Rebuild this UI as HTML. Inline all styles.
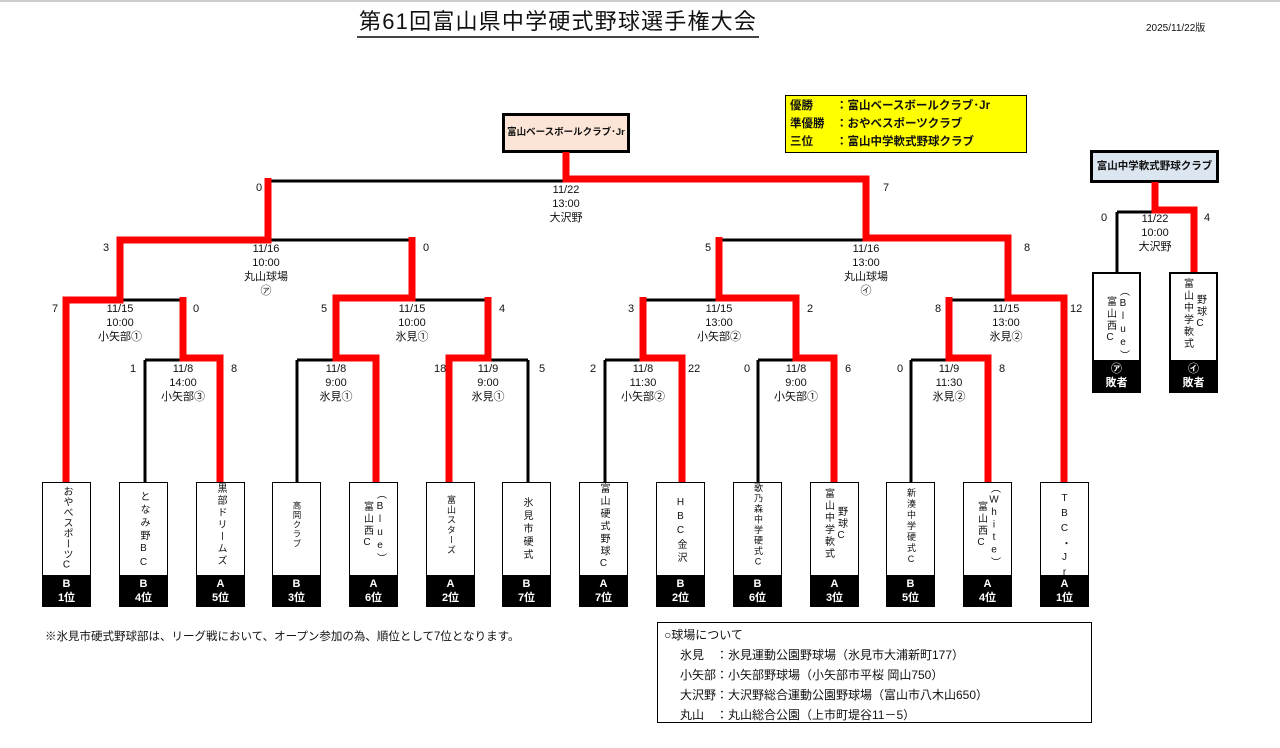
<!DOCTYPE html>
<html><head><meta charset="utf-8">
<style>
*{margin:0;padding:0;box-sizing:border-box}
body{width:1280px;height:748px;background:#fff;position:relative;overflow:hidden;font-family:"Liberation Sans","Noto Sans CJK JP",sans-serif;color:#111}
.a{position:absolute}
.lb{position:absolute;width:80px;text-align:center;font-size:11px;line-height:14px}
.sc{position:absolute;font-size:11px;line-height:14px;width:20px}
.tb{position:absolute;top:482px;width:49px;height:125px;border:1px solid #000;background:#fff}
.tb .nm{position:absolute;top:3px;left:0;right:0;height:90px;display:flex;flex-direction:row-reverse;justify-content:center;gap:2px;font-size:10px;font-weight:normal}
.tb .nm span{writing-mode:vertical-rl;text-orientation:upright;line-height:11px;letter-spacing:1px}
.tb .rk{position:absolute;left:-1px;right:-1px;bottom:-1px;height:32px;background:#000;color:#fff;font-size:11px;font-weight:bold;text-align:center;line-height:14px;padding-top:2px}
</style></head><body>
<div class="a" style="left:0;top:0;width:1280px;height:2px;background:#ccc"></div>
<div class="a" style="left:357px;top:8px;font-size:22px;line-height:28px;letter-spacing:1.2px;border-bottom:2px solid #444;padding:0 2px">第61回富山県中学硬式野球選手権大会</div>
<div class="a" style="left:1146px;top:19px;font-size:10px">2025/11/22版</div>

<div class="a" style="left:502px;top:113px;width:128px;height:40px;background:#fce4d6;border:3px solid #000;font-size:9.5px;text-align:center;line-height:34px;font-weight:bold">富山ベースボールクラブ･Jr</div>
<div class="a" style="left:785px;top:95px;width:242px;height:58px;background:#ffff00;border:1px solid #000;font-size:11.5px;line-height:18px;padding:1px 4px;font-weight:bold">
<div>優勝　　：富山ベースボールクラブ･Jr</div><div>準優勝　：おやべスポーツクラブ</div><div>三位　　：富山中学軟式野球クラブ</div></div>
<div class="a" style="left:1090px;top:150px;width:129px;height:33px;background:#dce6f1;border:3px solid #000;font-size:10.5px;text-align:center;line-height:27px;font-weight:bold">富山中学軟式野球クラブ</div>

<svg class="a" style="left:0;top:0" width="1280" height="748">
<g stroke="#000" stroke-width="3" fill="none">
<path d="M268 181H866M566 152V181"/>
<path d="M120 240H412M268 181V240M120 240V300M412 240V300"/>
<path d="M719 240H1008M866 181V240M719 240V300M1008 240V300"/>
<path d="M66 300H183M66 300V482M183 300V360"/>
<path d="M336 300H488M336 300V360M488 300V360"/>
<path d="M643 300H796M643 300V360M796 300V360"/>
<path d="M949 300H1064M949 300V360M1064 300V482"/>
<path d="M145 360H220M145 360V482M220 360V482"/>
<path d="M297 360H376M297 360V482M376 360V482"/>
<path d="M449 360H528M449 360V482M528 360V482"/>
<path d="M605 360H682M605 360V482M682 360V482"/>
<path d="M758 360H834M758 360V482M834 360V482"/>
<path d="M911 360H988M911 360V482M988 360V482"/>
<path d="M1117 212H1194M1117 212V272M1194 212V272M1155 182V212"/>
</g>
<g stroke="#f00" stroke-width="7" fill="none" stroke-linejoin="miter" stroke-linecap="butt">
<path d="M66 482V300H120V240H268V178"/>
<path d="M220 482V358H183V297"/>
<path d="M376 482V358H336V298H412V237"/>
<path d="M449 482V358H488V297"/>
<path d="M682 482V358H643V297"/>
<path d="M834 482V358H796V298H719V237"/>
<path d="M988 482V358H949V297"/>
<path d="M1064 482V298H1008V238H866V179H566V152"/>
<path d="M1194 272V210H1155V182"/>
</g>
</svg>

<div class="lb" style="left:526px;top:183px">11/22<br>13:00<br>大沢野</div>
<div class="lb" style="left:226px;top:242px">11/16<br>10:00<br>丸山球場<br>㋐</div>
<div class="lb" style="left:826px;top:242px">11/16<br>13:00<br>丸山球場<br>㋑</div>
<div class="lb" style="left:80px;top:302px">11/15<br>10:00<br>小矢部①</div>
<div class="lb" style="left:372px;top:302px">11/15<br>10:00<br>氷見①</div>
<div class="lb" style="left:679px;top:302px">11/15<br>13:00<br>小矢部②</div>
<div class="lb" style="left:966px;top:302px">11/15<br>13:00<br>氷見②</div>
<div class="lb" style="left:143px;top:362px">11/8<br>14:00<br>小矢部③</div>
<div class="lb" style="left:296px;top:362px">11/8<br>9:00<br>氷見①</div>
<div class="lb" style="left:448px;top:362px">11/9<br>9:00<br>氷見①</div>
<div class="lb" style="left:603px;top:362px">11/8<br>11:30<br>小矢部②</div>
<div class="lb" style="left:756px;top:362px">11/8<br>9:00<br>小矢部①</div>
<div class="lb" style="left:909px;top:362px">11/9<br>11:30<br>氷見②</div>
<div class="lb" style="left:1115px;top:212px">11/22<br>10:00<br>大沢野</div>

<div class="sc" style="left:256px;top:181px">0</div>
<div class="sc" style="left:883px;top:181px">7</div>
<div class="sc" style="left:103px;top:241px">3</div>
<div class="sc" style="left:423px;top:241px">0</div>
<div class="sc" style="left:705px;top:241px">5</div>
<div class="sc" style="left:1024px;top:241px">8</div>
<div class="sc" style="left:52px;top:302px">7</div>
<div class="sc" style="left:193px;top:302px">0</div>
<div class="sc" style="left:321px;top:302px">5</div>
<div class="sc" style="left:499px;top:302px">4</div>
<div class="sc" style="left:628px;top:302px">3</div>
<div class="sc" style="left:807px;top:302px">2</div>
<div class="sc" style="left:935px;top:302px">8</div>
<div class="sc" style="left:1070px;top:302px">12</div>
<div class="sc" style="left:130px;top:362px">1</div>
<div class="sc" style="left:231px;top:362px">8</div>
<div class="sc" style="left:434px;top:362px">18</div>
<div class="sc" style="left:539px;top:362px">5</div>
<div class="sc" style="left:590px;top:362px">2</div>
<div class="sc" style="left:688px;top:362px">22</div>
<div class="sc" style="left:744px;top:362px">0</div>
<div class="sc" style="left:845px;top:362px">6</div>
<div class="sc" style="left:897px;top:362px">0</div>
<div class="sc" style="left:999px;top:362px">8</div>
<div class="sc" style="left:1101px;top:211px">0</div>
<div class="sc" style="left:1204px;top:211px">4</div>

<div class="tb" style="left:42px"><div class="nm"><span style="letter-spacing:0.5px">おやべスポーツC</span></div><div class="rk">B<br>1位</div></div>
<div class="tb" style="left:119px"><div class="nm" style="top:8px"><span style="letter-spacing:3px">となみ野BC</span></div><div class="rk">B<br>4位</div></div>
<div class="tb" style="left:196px"><div class="nm" style="top:0"><span style="letter-spacing:2px">黒部ドリームズ</span></div><div class="rk">A<br>5位</div></div>
<div class="tb" style="left:272px"><div class="nm" style="top:18px"><span style="font-size:8.5px">高岡クラブ</span></div><div class="rk">B<br>3位</div></div>
<div class="tb" style="left:349px"><div class="nm" style="top:6px"><span style="letter-spacing:2px">（Blue）</span><span style="padding-top:12px;letter-spacing:2px">富山西C</span></div><div class="rk">A<br>6位</div></div>
<div class="tb" style="left:426px"><div class="nm" style="top:12px"><span style="font-size:9px">富山スターズ</span></div><div class="rk">A<br>2位</div></div>
<div class="tb" style="left:502px"><div class="nm" style="top:14px"><span style="letter-spacing:3px">氷見市硬式</span></div><div class="rk">B<br>7位</div></div>
<div class="tb" style="left:579px"><div class="nm" style="top:0"><span style="letter-spacing:2.5px">富山硬式野球C</span></div><div class="rk">A<br>7位</div></div>
<div class="tb" style="left:656px"><div class="nm" style="top:14px"><span style="letter-spacing:3px">HBC金沢</span></div><div class="rk">B<br>2位</div></div>
<div class="tb" style="left:733px"><div class="nm" style="top:0"><span style="font-size:9px;letter-spacing:1.5px">歌乃森中学硬式C</span></div><div class="rk">B<br>6位</div></div>
<div class="tb" style="left:810px"><div class="nm" style="top:5px"><span style="padding-top:18px;letter-spacing:2px">野球C</span><span style="letter-spacing:2px">富山中学軟式</span></div><div class="rk">A<br>3位</div></div>
<div class="tb" style="left:886px"><div class="nm" style="top:5px"><span style="font-size:9px;letter-spacing:2px">新湊中学硬式C</span></div><div class="rk">B<br>5位</div></div>
<div class="tb" style="left:963px"><div class="nm" style="top:0"><span style="letter-spacing:1.5px">（White）</span><span style="padding-top:18px;letter-spacing:2px">富山西C</span></div><div class="rk">A<br>4位</div></div>
<div class="tb" style="left:1040px"><div class="nm" style="top:10px"><span style="letter-spacing:4px">TBC・Jr</span></div><div class="rk">A<br>1位</div></div>

<div class="tb" style="left:1092px;top:272px;height:121px;border-width:2px"><div class="nm" style="top:12px"><span style="letter-spacing:2px">（Blue）</span><span style="padding-top:10px;letter-spacing:2px">富山西C</span></div><div class="rk" style="height:32px">㋐<br>敗者</div></div>
<div class="tb" style="left:1169px;top:272px;height:121px;border-width:2px"><div class="nm" style="top:4px"><span style="padding-top:16px;letter-spacing:2px">野球C</span><span style="letter-spacing:2px">富山中学軟式</span></div><div class="rk" style="height:32px">㋑<br>敗者</div></div>

<div class="a" style="left:45px;top:628px;font-size:11.5px">※氷見市硬式野球部は、リーグ戦において、オープン参加の為、順位として7位となります。</div>

<div class="a" style="left:657px;top:622px;width:435px;height:101px;border:1px solid #000;font-size:12px;line-height:20px;padding:2px 6px">
<div>○球場について</div>
<div style="padding-left:16px">氷見　：氷見運動公園野球場（氷見市大浦新町177）</div>
<div style="padding-left:16px">小矢部：小矢部野球場（小矢部市平桜 岡山750）</div>
<div style="padding-left:16px">大沢野：大沢野総合運動公園野球場（富山市八木山650）</div>
<div style="padding-left:16px">丸山　：丸山総合公園（上市町堤谷11－5）</div>
</div>
</body></html>
